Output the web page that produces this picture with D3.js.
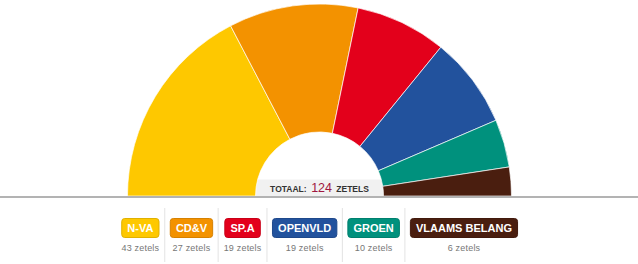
<!DOCTYPE html>
<html>
<head>
<meta charset="utf-8">
<script src="https://cdn.jsdelivr.net/npm/d3@7"></script>
<style>
  html, body { margin: 0; padding: 0; background: #fff; }
  svg { display: block; font-family: "Liberation Sans", Arial, sans-serif; }
</style>
</head>
<body>
<svg id="chart" width="638" height="264"></svg>
<script>
const parties = ["N-VA", "CD&V", "SP.A", "OPENVLD", "GROEN", "VLAAMS BELANG"];
const seats = [43, 27, 19, 19, 10, 6];
const colors = ["#fec800", "#f39200", "#e3001b", "#22529d", "#00917d", "#4a1e0f"];
const seatLabels = ["43 zetels", "27 zetels", "19 zetels", "19 zetels", "10 zetels", "6 zetels"];
const totalLabel = ["TOTAAL:", "124", "ZETELS"];

const W = 638, H = 264;
const cx = 319.5, cy = 196, rOuter = 192, rInner = 64;
const svg = d3.select("#chart");

const data = parties.map((p, i) => ({ party: p, seats: seats[i], color: colors[i], label: seatLabels[i] }));

// grey band behind total label
svg.append("rect")
  .attr("x", cx - rInner).attr("y", 179.5)
  .attr("width", rInner * 2).attr("height", cy - 179.5)
  .attr("fill", "#f1f1f1");

const pie = d3.pie().value(d => d.seats).sort(null)
  .startAngle(-Math.PI / 2).endAngle(Math.PI / 2);
const arc = d3.arc().innerRadius(rInner).outerRadius(rOuter);

const g = svg.append("g").attr("transform", `translate(${cx},${cy})`);
g.selectAll("path").data(pie(data)).join("path")
  .attr("d", arc)
  .attr("fill", d => d.data.color)
  .attr("stroke", "#fff")
  .attr("stroke-opacity", 0.75)
  .attr("stroke-width", 0.9);

// baseline
svg.append("line")
  .attr("x1", 0).attr("x2", W).attr("y1", 197).attr("y2", 197)
  .attr("stroke", "#9a9a9a").attr("stroke-width", 1.5);

// total text
const tt = svg.append("text")
  .attr("x", cx).attr("y", 192.3)
  .attr("text-anchor", "middle")
  .attr("fill", "#333");
tt.append("tspan").text(totalLabel[0]).attr("font-size", 8.5).attr("font-weight", "bold");
tt.append("tspan").text(totalLabel[1]).attr("dx", 4.5).attr("font-size", 12.5).attr("fill", "#a0173f");
tt.append("tspan").text(totalLabel[2]).attr("dx", 4.3).attr("font-size", 8.5).attr("font-weight", "bold");

// legend
const leg = svg.append("g");
const items = leg.selectAll("g.item").data(data).join("g").attr("class", "item");
const badgeText = items.append("text")
  .text(d => d.party)
  .attr("font-size", 11).attr("font-weight", "bold").attr("fill", "#fff")
  .attr("text-anchor", "middle");
const subText = items.append("text")
  .text(d => d.label)
  .attr("font-size", 9).attr("fill", "#777").attr("letter-spacing", 0.2)
  .attr("text-anchor", "middle");

const pad = 5.6, gap = 11;
data.forEach((d, i) => {
  d.bw = badgeText.nodes()[i].getComputedTextLength() + pad * 2;
  d.tw = subText.nodes()[i].getComputedTextLength();
  d.cw = Math.max(d.bw, d.tw);
});
const total = d3.sum(data, d => d.cw) + gap * (data.length - 1);
let x = cx - total / 2;
data.forEach(d => { d.x = x; x += d.cw + gap; });

items.attr("transform", d => `translate(${d.x + d.cw / 2},0)`);
items.insert("rect", "text")
  .attr("x", d => -d.bw / 2).attr("y", 218.5)
  .attr("width", d => d.bw).attr("height", 19)
  .attr("rx", 3).attr("ry", 3)
  .attr("fill", d => d.color)
  .attr("stroke", d => d3.color(d.color).darker(0.35))
  .attr("stroke-width", 1);
badgeText.attr("y", 232);
subText.attr("y", 251);

leg.selectAll("line.sep").data(data.slice(1)).join("line").attr("class", "sep")
  .attr("x1", d => d.x - gap / 2).attr("x2", d => d.x - gap / 2)
  .attr("y1", 208).attr("y2", 262)
  .attr("stroke", "#e3e3e3").attr("stroke-width", 1);
</script>
</body>
</html>
